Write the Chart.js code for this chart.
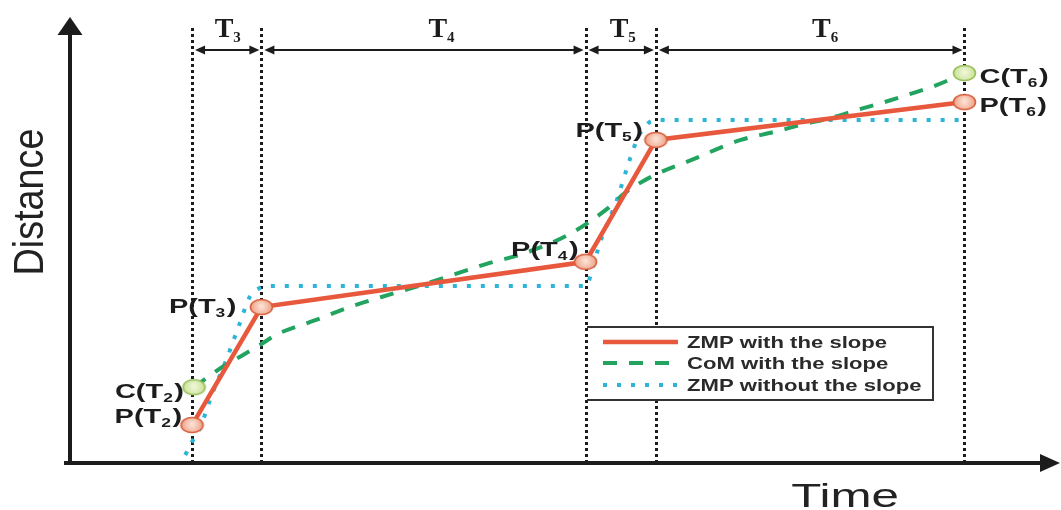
<!DOCTYPE html>
<html>
<head>
<meta charset="utf-8">
<script src="https://cdn.jsdelivr.net/npm/chart.js@4.4.1/dist/chart.umd.min.js"></script>
<style>
html, body { margin: 0; padding: 0; background: #fff; }
</style>
</head>
<body>
<canvas id="myChart" width="1061" height="510"></canvas>
<script>
// phase boundaries on the time axis (arbitrary units 0-100)
const phaseTimes = [12.5, 19.6, 52.8, 60.0, 91.6];
const phaseLabels = ['T₃', 'T₄', 'T₅', 'T₆'];

// ZMP with the slope (the P(T) points)
const zmpTime = [12.5, 19.6, 52.8, 60.0, 91.6];
const zmpDist = [8.4, 35.2, 45.5, 73.2, 81.8];
const zmpNames = ['P(T₂)', 'P(T₃)', 'P(T₄)', 'P(T₅)', 'P(T₆)'];

// CoM with the slope
const comTime = [12.7, 14.0, 15.6, 17.4, 19.6, 21.1, 25.2, 28.6, 31.9, 36.7, 42.9, 45.9, 51.0, 55.1, 56.8, 59.5, 63.6, 68.7, 72.1, 74.8, 77.9, 80.6, 83.4, 86.4, 88.8, 91.6];
const comDist = [17.0, 19.1, 21.6, 23.9, 26.8, 28.9, 32.3, 35.2, 37.5, 40.7, 45.2, 47.0, 51.6, 57.7, 61.1, 64.8, 68.6, 73.2, 75.0, 76.6, 78.2, 80.0, 81.8, 83.9, 85.7, 88.4];
const comNames = ['C(T₂)', 'C(T₆)'];

// ZMP without the slope
const flatTime = [11.8, 12.6, 13.3, 14.6, 16.0, 17.4, 18.4, 19.4, 20.4, 52.9, 53.4, 54.3, 55.4, 56.1, 57.3, 58.2, 59.2, 60.2, 91.6];
const flatDist = [1.6, 5.0, 7.7, 15.7, 23.2, 31.6, 37.5, 39.5, 40.0, 40.0, 43.2, 50.0, 56.1, 60.2, 68.6, 73.9, 77.0, 77.7, 77.7];

const seriesLabels = ['ZMP with the slope', 'CoM with the slope', 'ZMP without the slope'];
const axisTitles = ['Time', 'Distance'];

const RED = '#e8583c', GREEN = '#22a460', CYAN = '#2cb5d6', INK = '#1c1c1c';

// ellipse markers
function makeDot(fill, light, edge) {
    const c = document.createElement('canvas');
    c.width = 25; c.height = 18;
    const g = c.getContext('2d');
    const grad = g.createRadialGradient(12.5, 8, 1, 12.5, 9, 12);
    grad.addColorStop(0, light);
    grad.addColorStop(1, fill);
    g.beginPath();
    g.ellipse(12.5, 9, 11, 7.5, 0, 0, Math.PI * 2);
    g.fillStyle = grad;
    g.fill();
    g.lineWidth = 1.6;
    g.strokeStyle = edge;
    g.stroke();
    return c;
}
const redDot = makeDot('#ee9a7c', '#fbe0d4', '#d9603f');
const greenDot = makeDot('#c6df8e', '#eef6d6', '#95c05a');

// text with subscript digits (₀-₉ drawn as small digits)
const SUBS = '₀₁₂₃₄₅₆₇₈₉';
function splitSub(str) {
    const parts = [];
    for (const ch of str) {
        const i = SUBS.indexOf(ch);
        const sub = i >= 0;
        const t = sub ? String(i) : ch;
        const last = parts[parts.length - 1];
        if (last && last.sub === sub) last.t += t;
        else parts.push({ t, sub });
    }
    return parts;
}
function drawRich(ctx, str, x, y, o) {
    const parts = splitSub(str);
    ctx.save();
    ctx.textBaseline = 'alphabetic';
    ctx.textAlign = 'left';
    ctx.fillStyle = o.color || INK;
    let w = 0;
    parts.forEach(p => {
        ctx.font = `${o.weight} ${p.sub ? o.subSize : o.size}px ${o.family}`;
        p.w = ctx.measureText(p.t).width + (p.sub ? 1 : 0);
        w += p.w;
    });
    w *= o.sx;
    const x0 = o.align === 'right' ? x - w : o.align === 'center' ? x - w / 2 : x;
    ctx.translate(x0, y);
    ctx.scale(o.sx, 1);
    let cx = 0;
    parts.forEach(p => {
        ctx.font = `${o.weight} ${p.sub ? o.subSize : o.size}px ${o.family}`;
        ctx.fillText(p.t, cx, p.sub ? o.subDy : 0);
        cx += p.w;
    });
    ctx.restore();
}

function arrowHead(ctx, x, y, dir, len, half) {
    // dir: 1 = pointing right, -1 = left, 'up'
    ctx.beginPath();
    if (dir === 'up') {
        ctx.moveTo(x, y);
        ctx.lineTo(x - half, y + len);
        ctx.lineTo(x + half, y + len);
    } else {
        ctx.moveTo(x, y);
        ctx.lineTo(x - dir * len, y - half);
        ctx.lineTo(x - dir * len, y + half);
    }
    ctx.closePath();
    ctx.fill();
}

const sketchPlugin = {
    id: 'sketch',
    beforeDatasetsDraw(chart) {
        const { ctx, chartArea, scales } = chart;
        ctx.save();
        ctx.strokeStyle = INK;
        ctx.lineWidth = 3;
        ctx.setLineDash([3, 3]);
        phaseTimes.forEach(t => {
            const x = Math.round(scales.x.getPixelForValue(t)) + 0.5;
            ctx.beginPath();
            ctx.moveTo(x, 28);
            ctx.lineTo(x, chartArea.bottom);
            ctx.stroke();
        });
        ctx.restore();
    },
    afterDraw(chart) {
        const { ctx, chartArea, scales } = chart;
        const px = v => scales.x.getPixelForValue(v);
        const py = v => scales.y.getPixelForValue(v);
        ctx.save();
        ctx.fillStyle = INK;
        ctx.strokeStyle = INK;

        // axes with arrows
        const ax = chartArea.left, ay = chartArea.bottom + 1;
        ctx.lineWidth = 4;
        ctx.beginPath();
        ctx.moveTo(64, ay);
        ctx.lineTo(1044, ay);
        ctx.moveTo(ax, ay + 2);
        ctx.lineTo(ax, 32);
        ctx.stroke();
        arrowHead(ctx, 1060, ay, 1, 20, 9);
        arrowHead(ctx, ax, 17, 'up', 18, 12.5);

        // phase duration arrows and T labels
        const labelNudge = [1, 18, 2, 15];
        ctx.lineWidth = 2;
        for (let i = 0; i < phaseLabels.length; i++) {
            const x1 = px(phaseTimes[i]) + 3, x2 = px(phaseTimes[i + 1]) - 2;
            ctx.beginPath();
            ctx.moveTo(x1 + 6, 50);
            ctx.lineTo(x2 - 6, 50);
            ctx.stroke();
            arrowHead(ctx, x1, 50, -1, 10, 4.5);
            arrowHead(ctx, x2, 50, 1, 10, 4.5);
            drawRich(ctx, phaseLabels[i], (x1 + x2) / 2 + labelNudge[i], 37,
                { weight: 'bold', size: 28, subSize: 15, subDy: 5, family: '"Liberation Serif", serif', sx: 1, align: 'center' });
        }

        // point labels
        const ptFont = { weight: 'bold', size: 20, subSize: 12, subDy: 4, family: '"Liberation Sans", Arial, sans-serif', sx: 1.45 };
        const zmpShift = [[-10, -10], [-25, -2], [-7, -13], [-13, -10], [15, 2]];
        zmpNames.forEach((name, i) => {
            const [dx, dy] = zmpShift[i];
            drawRich(ctx, name, px(zmpTime[i]) + dx, py(zmpDist[i]) + dy + 7.5,
                Object.assign({}, ptFont, { align: dx < 0 ? 'right' : 'left' }));
        });
        const comIdx = [0, comTime.length - 1];
        const comShift = [[-10, 3], [15, 2]];
        comNames.forEach((name, i) => {
            const k = comIdx[i];
            const [dx, dy] = comShift[i];
            drawRich(ctx, name, px(comTime[k]) + dx, py(comDist[k]) + dy + 7.5,
                Object.assign({}, ptFont, { align: dx < 0 ? 'right' : 'left' }));
        });

        // legend box
        const L = 589, T = 327, R = 933, B = 400;
        ctx.fillStyle = '#fff';
        ctx.fillRect(L, T, R - L, B - T);
        ctx.lineWidth = 2;
        ctx.strokeStyle = '#333';
        ctx.beginPath();
        ctx.moveTo(L - 2, T);
        ctx.lineTo(R, T);
        ctx.lineTo(R, B);
        ctx.lineTo(L - 2, B);
        ctx.stroke();
        const rows = [342, 363, 385];
        chart.data.datasets.forEach((ds, i) => {
            ctx.save();
            ctx.strokeStyle = ds.borderColor;
            ctx.lineWidth = ds.borderWidth;
            ctx.setLineDash(ds.borderDash || []);
            ctx.beginPath();
            ctx.moveTo(603, rows[i]);
            ctx.lineTo(678, rows[i]);
            ctx.stroke();
            ctx.restore();
            drawRich(ctx, ds.label, 687, rows[i] + 6,
                { weight: 'bold', size: 17, subSize: 10, subDy: 3, family: '"Liberation Sans", Arial, sans-serif', sx: 1.3, align: 'left', color: '#2a2a2a' });
        });

        // axis titles
        ctx.fillStyle = '#222';
        ctx.save();
        ctx.translate(845, 507);
        ctx.scale(1.45, 1);
        ctx.font = '34px "Liberation Sans", Arial, sans-serif';
        ctx.textAlign = 'center';
        ctx.textBaseline = 'alphabetic';
        ctx.fillText(axisTitles[0], 0, 0);
        ctx.restore();
        ctx.save();
        ctx.translate(43, 202);
        ctx.rotate(-Math.PI / 2);
        ctx.scale(0.9, 1);
        ctx.font = '42px "Liberation Sans", Arial, sans-serif';
        ctx.textAlign = 'center';
        ctx.textBaseline = 'alphabetic';
        ctx.fillText(axisTitles[1], 0, 0);
        ctx.restore();

        ctx.restore();
    }
};

const toPoints = (xs, ys) => xs.map((x, i) => ({ x, y: ys[i] }));

const myChart = new Chart(document.getElementById('myChart'), {
    type: 'line',
    data: {
        datasets: [{
            label: seriesLabels[0],
            data: toPoints(zmpTime, zmpDist),
            borderColor: RED,
            borderWidth: 4.5,
            tension: 0,
            pointStyle: redDot,
            pointRadius: 10
        }, {
            label: seriesLabels[1],
            data: toPoints(comTime, comDist),
            borderColor: GREEN,
            borderWidth: 4,
            borderDash: [14, 12],
            cubicInterpolationMode: 'monotone',
            pointStyle: greenDot,
            pointRadius: c => (c.dataIndex === 0 || c.dataIndex === comTime.length - 1) ? 10 : 0
        }, {
            label: seriesLabels[2],
            data: toPoints(flatTime, flatDist),
            borderColor: CYAN,
            borderWidth: 4,
            borderDash: [4, 10],
            cubicInterpolationMode: 'monotone',
            pointRadius: 0
        }]
    },
    options: {
        responsive: false,
        animation: false,
        layout: { padding: { left: 70, right: 11, top: 22, bottom: 48 } },
        scales: {
            x: { type: 'linear', min: 0, max: 100, display: false },
            y: { type: 'linear', min: 0, max: 100, display: false }
        },
        plugins: {
            legend: { display: false },
            tooltip: { enabled: false }
        }
    },
    plugins: [sketchPlugin]
});
</script>
</body>
</html>
